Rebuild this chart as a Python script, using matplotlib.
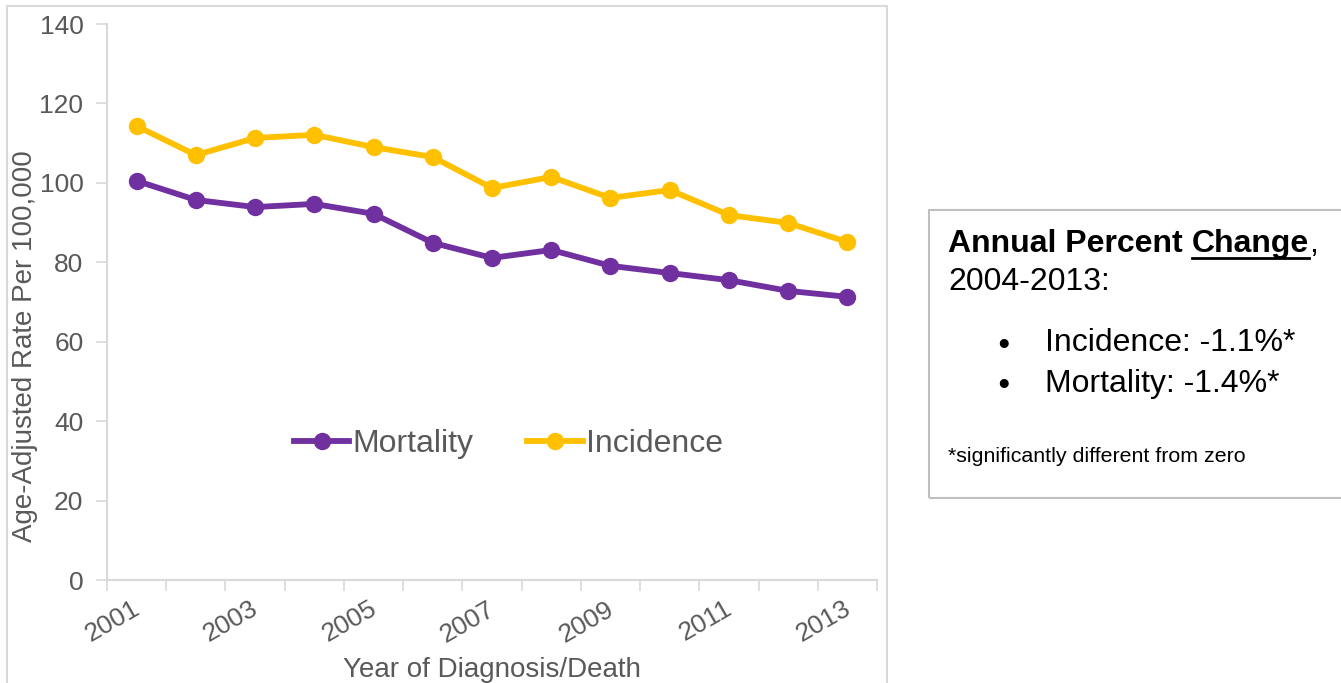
import numpy as np
import matplotlib
matplotlib.use("Agg")
import matplotlib.pyplot as plt
from matplotlib.patches import Rectangle
from matplotlib.lines import Line2D

plt.rcParams['font.family'] = ['Liberation Sans', 'DejaVu Sans']

years = list(range(2001, 2014))
mortality = [100.5, 95.7, 93.9, 94.7, 92.2, 84.9, 81.1, 83.1, 79.1, 77.3, 75.5, 72.8, 71.3]
incidence = [114.3, 107.0, 111.3, 112.1, 109.0, 106.5, 98.7, 101.5, 96.2, 98.2, 91.9, 89.9, 85.1]
yticks = [0, 20, 40, 60, 80, 100, 120, 140]

purple = '#7030A0'
gold = '#FFC000'
grey_text = '#595959'
axis_grey = '#D9D9D9'

fig = plt.figure(figsize=(13.41, 6.83), dpi=100)
W, H = 1341, 683

# outer chart frame
fig.patches.append(Rectangle((7 / W, -0.05), 880 / W, 1.05 - 6 / H, transform=fig.transFigure,
                             fill=False, edgecolor=axis_grey, lw=1.5))

ax = fig.add_axes([107 / W, 1 - 580 / H, 770 / W, 556 / H])
x = np.arange(len(years))
ax.plot(x, mortality, color=purple, lw=4.2, marker='o', ms=11.5, label='Mortality')
ax.plot(x, incidence, color=gold, lw=4.2, marker='o', ms=11.5, label='Incidence')

ax.set_xlim(-0.5, len(years) - 0.5)
ax.set_ylim(0, 140)
ax.set_yticks(yticks)
ax.set_yticklabels([str(v) for v in yticks], fontsize=19, color=grey_text)
ax.tick_params(axis='y', length=8, color=axis_grey, width=1.2, pad=9)

# category axis: ticks between categories, labels for every other year
ax.set_xticks(np.arange(-0.5, len(years)), minor=False)
ax.set_xticklabels([])
ax.tick_params(axis='x', length=8, color=axis_grey, width=1.2)
for i, yr in enumerate(years):
    if i % 2 == 0:
        ax.text(i - 0.08, -4.2, str(yr), rotation=30, rotation_mode='anchor',
                ha='right', va='top', fontsize=19, color=grey_text)

for side in ['top', 'right']:
    ax.spines[side].set_visible(False)
for side in ['left', 'bottom']:
    ax.spines[side].set_color(axis_grey)
    ax.spines[side].set_linewidth(1.5)

ax.set_ylabel('Age-Adjusted Rate Per 100,000', fontsize=20, color=grey_text)
ax.yaxis.set_label_coords(-0.089, 0.42)
ax.set_xlabel('Year of Diagnosis/Death', fontsize=20, color=grey_text, labelpad=44)

ax.legend(loc='center', bbox_to_anchor=(0.521, 0.245), ncol=2, frameon=False,
          fontsize=23, labelcolor=grey_text, handlelength=1.75, handletextpad=0.08,
          columnspacing=1.7)

# annotation box on the right
fig.patches.append(Rectangle((929 / W, 1 - 498 / H), 420 / W, 288 / H, transform=fig.transFigure,
                             fill=False, edgecolor='#BFBFBF', lw=1.5))

renderer = fig.canvas.get_renderer()
tx, ty = 948 / W, 1 - 244 / H
t1 = fig.text(tx, ty, 'Annual Percent ', fontsize=23, fontweight='bold', va='center')
w1 = t1.get_window_extent(renderer).width / W
t2 = fig.text(tx + w1, ty, 'Change', fontsize=23, fontweight='bold', va='center')
bb2 = t2.get_window_extent(renderer)
w2 = bb2.width / W
fig.text(tx + w1 + w2, ty, ',', fontsize=23, va='center')
uy = (bb2.y0 + 1) / H
fig.lines.append(Line2D([tx + w1, tx + w1 + w2], [uy, uy], transform=fig.transFigure,
                        color='black', lw=2))

fig.text(tx, 1 - 282 / H, '2004-2013:', fontsize=23, va='center')
for yy, s in [(343, 'Incidence: -1.1%*'), (384, 'Mortality: -1.4%*')]:
    fig.text(1004 / W, 1 - yy / H, '\u25CF', fontsize=15, va='center', ha='center')
    fig.text(1045 / W, 1 - yy / H, s, fontsize=23, va='center')
fig.text(tx, 1 - 456 / H, '*significantly different from zero', fontsize=15.4, va='center')

fig.savefig('out.png', dpi=100)
